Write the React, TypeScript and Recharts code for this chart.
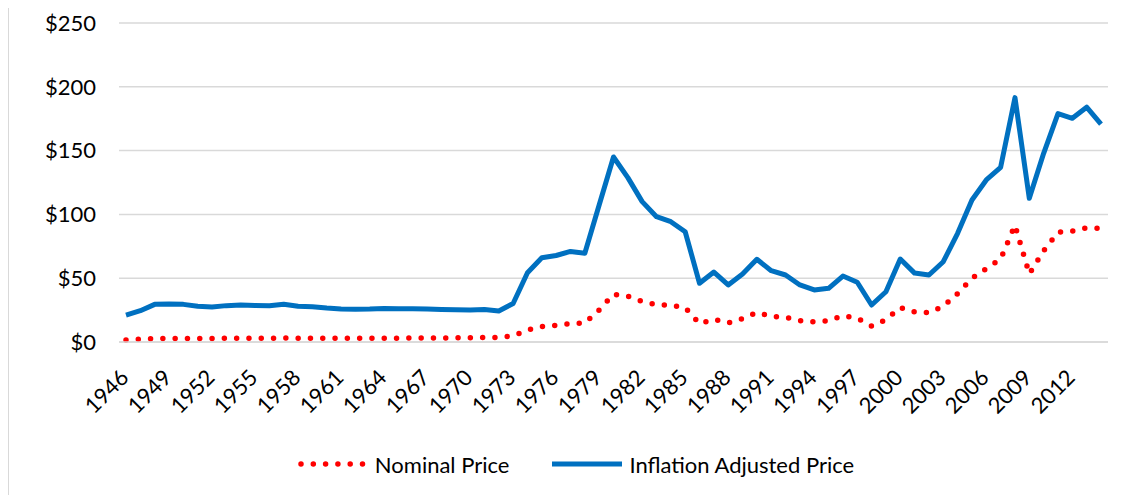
import React from "react";
import { LineChart, Line, XAxis, YAxis, CartesianGrid, Legend } from "recharts";

const years: string[] = [
  "1946","1947","1948","1949","1950","1951","1952","1953","1954","1955",
  "1956","1957","1958","1959","1960","1961","1962","1963","1964","1965",
  "1966","1967","1968","1969","1970","1971","1972","1973","1974","1975",
  "1976","1977","1978","1979","1980","1981","1982","1983","1984","1985",
  "1986","1987","1988","1989","1990","1991","1992","1993","1994","1995",
  "1996","1997","1998","1999","2000","2001","2002","2003","2004","2005",
  "2006","2007","2008","2009","2010","2011","2012","2013","2014",
];

const nominalPrice: number[] = [
  1.6, 2.2, 2.8, 2.8, 2.8, 2.8, 2.8, 2.9, 3.0, 2.9,
  2.9, 3.1, 3.0, 3.0, 2.9, 2.9, 2.9, 2.9, 3.0, 3.0,
  3.1, 3.1, 3.2, 3.3, 3.4, 3.6, 3.6, 4.8, 9.4, 12.2,
  13.1, 14.4, 15.0, 25.1, 37.4, 35.8, 31.8, 29.1, 28.8, 26.9,
  14.4, 17.8, 14.9, 18.3, 23.2, 20.2, 19.3, 16.8, 15.7, 16.8,
  20.5, 18.6, 12.5, 17.5, 27.0, 23.5, 23.0, 28.0, 38.0, 50.0,
  57.5, 65.0, 91.5, 53.3, 71.5, 86.0, 87.0, 89.5, 89.0,
];

const inflationAdjustedPrice: number[] = [
  21.0, 24.5, 29.5, 29.8, 29.5, 28.0, 27.4, 28.5, 29.0, 28.6,
  28.4, 29.6, 28.0, 27.7, 26.6, 25.9, 25.6, 25.8, 26.3, 26.1,
  26.1, 25.9, 25.5, 25.3, 25.0, 25.5, 24.3, 30.2, 54.3, 66.0,
  67.8, 71.0, 69.5, 107.4, 145.0, 128.8, 110.0, 98.2, 94.3, 86.4,
  46.0, 54.8, 44.7, 53.3, 64.8, 55.9, 52.5, 44.7, 40.8, 42.1,
  51.7, 46.8, 29.0, 39.4, 65.0, 54.0, 52.5, 62.9, 85.2, 111.3,
  127.0, 136.9, 191.5, 112.6, 147.9, 179.0, 175.3, 184.0, 170.8,
];

const yTicks: number[] = [0, 50, 100, 150, 200, 250];

const seriesNames = { nominal: "Nominal Price", adjusted: "Inflation Adjusted Price" };
const RED = "#FF0000";
const BLUE = "#0070C0";
const GRID = "#D9D9D9";
const FONT = "Lato, 'Open Sans', sans-serif";
const FONT_SIZE = 22;

const data = years.map((y, i) => ({
  year: y,
  nominal: nominalPrice[i],
  adjusted: inflationAdjustedPrice[i],
}));

const XTick = (props: any) => {
  const { x, y, payload } = props;
  const px = x + 4;
  const py = y + 29;
  return (
    <text
      x={px}
      y={py}
      transform={`rotate(-45, ${px}, ${py})`}
      textAnchor="end"
      fontFamily={FONT}
      fontSize={FONT_SIZE}
      fill="#000"
    >
      {payload.value}
    </text>
  );
};

const LegendContent = () => (
  <div
    style={{
      display: "flex",
      justifyContent: "center",
      alignItems: "center",
      height: 30,
      fontFamily: FONT,
      fontSize: FONT_SIZE,
      color: "#000",
      paddingLeft: 12,
    }}
  >
    <svg width={70} height={12}>
      <line
        x1={4}
        x2={66}
        y1={6}
        y2={6}
        stroke={RED}
        strokeWidth={5.5}
        strokeDasharray="0 12.3"
        strokeLinecap="round"
      />
    </svg>
    <span style={{ marginLeft: 8 }}>{seriesNames.nominal}</span>
    <svg width={70} height={12} style={{ marginLeft: 43 }}>
      <line x1={0} x2={70} y1={6} y2={6} stroke={BLUE} strokeWidth={5} />
    </svg>
    <span style={{ marginLeft: 7 }}>{seriesNames.adjusted}</span>
  </div>
);

export default function App() {
  return (
    <div style={{ position: "relative", width: 1139, height: 503, margin: -8 }}>
      <div style={{ position: "absolute", left: 0, top: 0 }}>
        <LineChart
          width={1139}
          height={503}
          data={data}
          margin={{ top: 23, right: 31, left: 0, bottom: 24 }}
        >
          <CartesianGrid vertical={false} stroke={GRID} strokeWidth={1.5} />
          <XAxis
            dataKey="year"
            interval={2}
            padding={{ left: 7, right: 7 }}
            tickLine={false}
            axisLine={{ stroke: GRID, strokeWidth: 1.5 }}
            tick={<XTick />}
            height={107}
          />
          <YAxis
            width={119}
            domain={[0, 250]}
            ticks={yTicks}
            tickFormatter={(v: number) => `$${v}`}
            axisLine={false}
            tickLine={false}
            tickSize={6}
            tickMargin={17}
            tick={{ fill: "#000", fontFamily: FONT, fontSize: FONT_SIZE }}
          />
          <Legend verticalAlign="bottom" content={<LegendContent />} wrapperStyle={{ left: 0, width: 1139 }} />
          <Line
            dataKey="nominal"
            name={seriesNames.nominal}
            stroke={RED}
            strokeWidth={5.5}
            strokeDasharray="0 12.3"
            strokeLinecap="round"
            dot={false}
            activeDot={false}
            isAnimationActive={false}
          />
          <Line
            dataKey="adjusted"
            name={seriesNames.adjusted}
            stroke={BLUE}
            strokeWidth={5}
            strokeLinejoin="round"
            dot={false}
            activeDot={false}
            isAnimationActive={false}
          />
        </LineChart>
      </div>
      <div
        style={{
          position: "absolute",
          left: 7,
          top: 0,
          width: 1132,
          height: 502,
          border: `2px solid ${GRID}`,
          boxSizing: "border-box",
          pointerEvents: "none",
        }}
      />
    </div>
  );
}
